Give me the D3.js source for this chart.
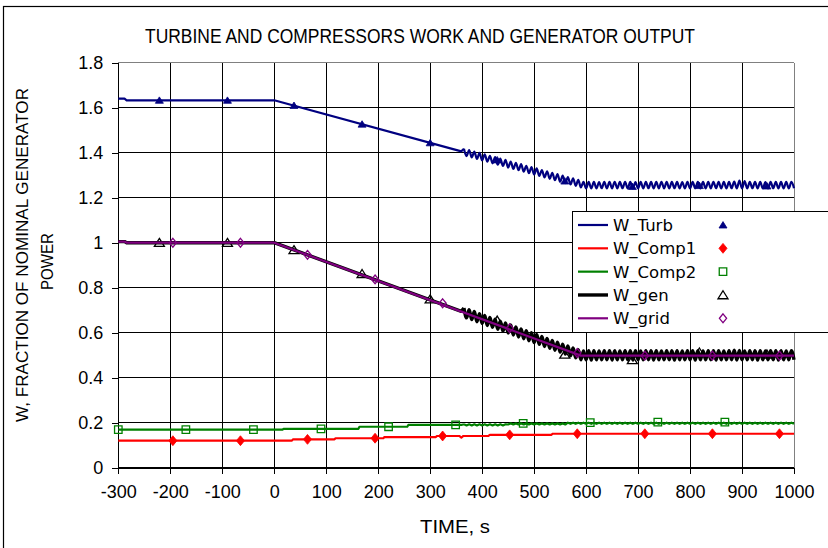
<!DOCTYPE html>
<html>
<head>
<meta charset="utf-8">
<script src="https://cdn.jsdelivr.net/npm/d3@7/dist/d3.min.js"></script>
<style>
  html, body { margin: 0; padding: 0; background: #fff; }
  svg { display: block; }
</style>
</head>
<body>
<svg id="chart" width="828" height="548"></svg>
<script>
// ---- axis ticks ----
const xTicks = [-300, -200, -100, 0, 100, 200, 300, 400, 500, 600, 700, 800, 900, 1000];
const yTicks = [0, 0.2, 0.4, 0.6, 0.8, 1, 1.2, 1.4, 1.6, 1.8];

// ---- series names (legend order) ----
const seriesNames = ["W_Turb", "W_Comp1", "W_Comp2", "W_gen", "W_grid"];

// ---- steady / ramp portions: [time s, fraction] ----
const turbKnots  = [[-300, 1.640], [-288, 1.640], [-284, 1.633], [0, 1.633], [360, 1.406]];
const comp1Knots = [[-300, 0.120], [34, 0.120], [36, 0.126], [116, 0.126], [118, 0.131], [210, 0.131],
                    [212, 0.136], [311, 0.136], [313, 0.141], [356, 0.141], [360, 0.134], [364, 0.141],
                    [412, 0.141], [415, 0.146], [533, 0.146], [536, 0.151], [1000, 0.151]];
const comp2Knots = [[-300, 0.169], [16, 0.169], [18, 0.173], [162, 0.173], [164, 0.182], [256, 0.182],
                    [258, 0.190], [360, 0.190]];
const genKnots   = [[-300, 1.005], [-288, 1.005], [-284, 1.000], [0, 1.000], [360, 0.695]];
const gridKnots  = [[-300, 1.005], [-288, 1.005], [-284, 1.000], [0, 1.000], [590, 0.498], [1000, 0.498]];

// ---- oscillating portion, sampled every 5 s from t = 365 s ----
const waveStart = 365;
const waveStep = 5;
const turbWave = [
  1.418, 1.385, 1.412, 1.379, 1.405, 1.372, 1.399, 1.366, 1.393, 1.360,
  1.386, 1.353, 1.380, 1.347, 1.374, 1.341, 1.368, 1.334, 1.361, 1.328,
  1.355, 1.322, 1.349, 1.316, 1.342, 1.309, 1.336, 1.303, 1.330, 1.297,
  1.323, 1.290, 1.317, 1.284, 1.311, 1.278, 1.305, 1.271, 1.298, 1.265,
  1.292, 1.259, 1.286, 1.253, 1.279, 1.246, 1.270, 1.241, 1.270, 1.241,
  1.270, 1.241, 1.269, 1.242, 1.270, 1.241, 1.270, 1.241, 1.271, 1.241,
  1.270, 1.242, 1.270, 1.241, 1.270, 1.241, 1.269, 1.241, 1.270, 1.241,
  1.270, 1.242, 1.270, 1.241, 1.270, 1.241, 1.271, 1.241, 1.270, 1.241,
  1.270, 1.242, 1.270, 1.241, 1.269, 1.241, 1.270, 1.241, 1.270, 1.242,
  1.270, 1.241, 1.270, 1.241, 1.270, 1.241, 1.271, 1.242, 1.270, 1.241,
  1.270, 1.241, 1.270, 1.242, 1.272, 1.241, 1.276, 1.241, 1.274, 1.241,
  1.270, 1.242, 1.270, 1.241, 1.270, 1.241, 1.269, 1.241, 1.270, 1.242,
  1.270, 1.241, 1.270, 1.241, 1.270, 1.241, 1.270, 1.242
];
const genWave = [
  0.710, 0.666, 0.702, 0.658, 0.694, 0.649, 0.685, 0.641, 0.677, 0.632,
  0.668, 0.624, 0.660, 0.615, 0.651, 0.607, 0.643, 0.598, 0.634, 0.590,
  0.626, 0.581, 0.617, 0.573, 0.609, 0.564, 0.600, 0.556, 0.592, 0.548,
  0.583, 0.539, 0.575, 0.531, 0.566, 0.522, 0.558, 0.514, 0.549, 0.505,
  0.541, 0.497, 0.532, 0.488, 0.524, 0.480, 0.519, 0.480, 0.520, 0.479,
  0.520, 0.480, 0.519, 0.480, 0.520, 0.480, 0.520, 0.479, 0.520, 0.480,
  0.519, 0.480, 0.520, 0.480, 0.520, 0.479, 0.520, 0.480, 0.519, 0.480,
  0.520, 0.480, 0.520, 0.479, 0.520, 0.480, 0.519, 0.480, 0.520, 0.480,
  0.520, 0.479, 0.520, 0.480, 0.519, 0.480, 0.520, 0.480, 0.520, 0.479,
  0.520, 0.480, 0.519, 0.480, 0.520, 0.480, 0.520, 0.479, 0.520, 0.480,
  0.519, 0.480, 0.520, 0.480, 0.522, 0.479, 0.521, 0.480, 0.519, 0.480,
  0.520, 0.480, 0.520, 0.479, 0.520, 0.480, 0.519, 0.480, 0.520, 0.480,
  0.520, 0.479, 0.520, 0.480, 0.519, 0.480, 0.520, 0.480
];
const comp2Wave = [
  0.193, 0.188, 0.193, 0.188, 0.193, 0.188, 0.193, 0.188, 0.193, 0.188,
  0.193, 0.188, 0.193, 0.188, 0.193, 0.188, 0.193, 0.192, 0.197, 0.192,
  0.197, 0.192, 0.197, 0.192, 0.197, 0.192, 0.197, 0.192, 0.197, 0.192,
  0.197, 0.192, 0.197, 0.192, 0.197, 0.192, 0.197, 0.192, 0.197, 0.192,
  0.200, 0.195, 0.200, 0.195, 0.200, 0.195, 0.200, 0.195, 0.200, 0.195,
  0.200, 0.195, 0.200, 0.195, 0.200, 0.195, 0.200, 0.195, 0.200, 0.195,
  0.200, 0.195, 0.200, 0.195, 0.200, 0.195, 0.200, 0.195, 0.200, 0.195,
  0.200, 0.195, 0.200, 0.195, 0.200, 0.195, 0.200, 0.195, 0.200, 0.195,
  0.200, 0.195, 0.200, 0.195, 0.200, 0.195, 0.200, 0.195, 0.200, 0.195,
  0.200, 0.195, 0.200, 0.195, 0.200, 0.195, 0.200, 0.195, 0.200, 0.195,
  0.200, 0.195, 0.200, 0.195, 0.200, 0.195, 0.200, 0.195, 0.200, 0.195,
  0.200, 0.195, 0.200, 0.195, 0.200, 0.195, 0.200, 0.195, 0.200, 0.195,
  0.200, 0.195, 0.200, 0.195, 0.200, 0.195, 0.200, 0.195
];

// ---- marker points: [time s, fraction] ----
const turbMarks  = [[-221, 1.633], [-90, 1.633], [38, 1.610], [169, 1.527], [300, 1.444],
                    [429, 1.368], [559, 1.274], [689, 1.250], [818, 1.254], [948, 1.252]];
const comp1Marks = [[-195, 0.120], [-65, 0.120], [64, 0.126], [194, 0.131], [324, 0.141],
                    [453, 0.146], [583, 0.151], [713, 0.151], [843, 0.151], [972, 0.151]];
const comp2Marks = [[-300, 0.169], [-170, 0.169], [-40, 0.169], [90, 0.173], [220, 0.182],
                    [349, 0.190], [479, 0.197], [608, 0.200], [738, 0.203], [867, 0.203]];
const genMarks   = [[-221, 1.000], [-90, 1.000], [38, 0.968], [169, 0.862], [300, 0.749],
                    [429, 0.655], [559, 0.504], [689, 0.479], [818, 0.513], [948, 0.504]];
const gridMarks  = [[-195, 1.000], [-65, 1.000], [64, 0.946], [194, 0.837], [324, 0.731],
                    [453, 0.620], [583, 0.510], [713, 0.498], [843, 0.498], [972, 0.498]];

// ---- assemble full series: steady/ramp part + oscillating part ----
const waveSeries = (wave) => wave.map((v, i) => [waveStart + i * waveStep, v]);
const series = [
  { name: seriesNames[0], knots: turbKnots,  wave: waveSeries(turbWave),  marks: turbMarks,
    color: "#000080", width: 2.2, waveCurve: d3.curveMonotoneX, symbol: "triUp", fill: true, msize: 8 },
  { name: seriesNames[1], knots: comp1Knots, wave: [],                    marks: comp1Marks,
    color: "#FF0000", width: 2.2, waveCurve: d3.curveLinear, symbol: "diamond", fill: true, msize: 9 },
  { name: seriesNames[2], knots: comp2Knots, wave: waveSeries(comp2Wave), marks: comp2Marks,
    color: "#008000", width: 2.2, waveCurve: d3.curveLinear, symbol: "square", fill: false, msize: 7.5 },
  { name: seriesNames[3], knots: genKnots,   wave: waveSeries(genWave),   marks: genMarks,
    color: "#000000", width: 3.4, waveCurve: d3.curveMonotoneX, symbol: "triUp", fill: false, msize: 10 },
  { name: seriesNames[4], knots: gridKnots,  wave: [],                    marks: gridMarks,
    color: "#800080", width: 2.2, waveCurve: d3.curveLinear, symbol: "diamond", fill: false, msize: 8 }
];

// ---- layout ----
const svg = d3.select("#chart");
const plot = { left: 118.3, right: 794, top: 62.7, bottom: 467.7 };
const x = d3.scaleLinear().domain([-300, 1000]).range([plot.left, plot.right]);
const y = d3.scaleLinear().domain([0, 1.8]).range([plot.bottom, plot.top]);

const sans = "'Liberation Sans', Arial, sans-serif";

// outer chart frame
svg.append("rect")
  .attr("x", 3.5).attr("y", 6.5).attr("width", 900).attr("height", 700)
  .attr("fill", "#fff").attr("stroke", "#000").attr("stroke-width", 1.2);

// title
svg.append("text")
  .attr("x", 420).attr("y", 43)
  .attr("text-anchor", "middle")
  .attr("font-family", sans).attr("font-size", 19.5)
  .attr("textLength", 550).attr("lengthAdjust", "spacingAndGlyphs")
  .attr("fill", "#000")
  .text("TURBINE AND COMPRESSORS WORK AND GENERATOR OUTPUT");

// grid lines
const grid = svg.append("g").attr("shape-rendering", "crispEdges");
grid.selectAll("line.v").data(xTicks).join("line")
  .attr("class", "v")
  .attr("x1", d => x(d)).attr("x2", d => x(d))
  .attr("y1", plot.top).attr("y2", plot.bottom)
  .attr("stroke", d => d === 1000 ? "#808080" : "#000").attr("stroke-width", 1);
grid.selectAll("line.h").data(yTicks).join("line")
  .attr("class", "h")
  .attr("x1", plot.left).attr("x2", plot.right)
  .attr("y1", d => y(d)).attr("y2", d => y(d))
  .attr("stroke", d => d === 1.8 ? "#808080" : "#000").attr("stroke-width", 1);

// axes
const fmtY = d => String(+d.toFixed(1));
const yAxis = svg.append("g")
  .attr("transform", `translate(${plot.left},0)`)
  .call(d3.axisLeft(y).tickValues(yTicks).tickFormat(fmtY).tickSize(6).tickSizeOuter(0).tickPadding(9));
const xAxis = svg.append("g")
  .attr("transform", `translate(0,${plot.bottom})`)
  .call(d3.axisBottom(x).tickValues(xTicks).tickFormat(d => String(d)).tickSize(6).tickSizeOuter(0).tickPadding(12));
[yAxis, xAxis].forEach(a => {
  a.attr("shape-rendering", "crispEdges");
  a.select(".domain").attr("stroke", "#000");
  a.selectAll(".tick line").attr("stroke", "#000");
  a.selectAll(".tick text").attr("font-family", sans).attr("font-size", 18).attr("fill", "#000");
});

// axis titles
svg.append("text")
  .attr("x", 455).attr("y", 533)
  .attr("text-anchor", "middle")
  .attr("font-family", sans).attr("font-size", 18)
  .attr("textLength", 70).attr("lengthAdjust", "spacingAndGlyphs")
  .text("TIME, s");
svg.append("text")
  .attr("transform", "translate(27.5,255) rotate(-90)")
  .attr("text-anchor", "middle")
  .attr("font-family", sans).attr("font-size", 16.5)
  .attr("textLength", 334).attr("lengthAdjust", "spacingAndGlyphs")
  .text("W, FRACTION OF NOMINAL GENERATOR");
svg.append("text")
  .attr("transform", "translate(52.5,261.5) rotate(-90)")
  .attr("text-anchor", "middle")
  .attr("font-family", sans).attr("font-size", 16.5)
  .attr("textLength", 57).attr("lengthAdjust", "spacingAndGlyphs")
  .text("POWER");

// marker shapes
function markerPath(kind, s) {
  const h = s / 2;
  const p = d3.path();
  if (kind === "triUp") {
    p.moveTo(0, -h * 0.85); p.lineTo(h, h * 0.75); p.lineTo(-h, h * 0.75); p.closePath();
  } else if (kind === "diamond") {
    p.moveTo(0, -h * 1.1); p.lineTo(h * 0.9, 0); p.lineTo(0, h * 1.1); p.lineTo(-h * 0.9, 0); p.closePath();
  } else {
    p.rect(-h, -h, s, s);
  }
  return p.toString();
}

// series lines with markers
const plotG = svg.append("g");
series.forEach(s => {
  const linear = d3.line().x(d => x(d[0])).y(d => y(d[1])).curve(d3.curveLinear);
  const rampPts = s.wave.length ? s.knots.concat([s.wave[0]]) : s.knots;
  plotG.append("path")
    .datum(rampPts)
    .attr("d", linear)
    .attr("fill", "none")
    .attr("stroke", s.color)
    .attr("stroke-width", s.width)
    .attr("stroke-linejoin", "round");
  if (s.wave.length) {
    const waveLine = d3.line().x(d => x(d[0])).y(d => y(d[1])).curve(s.waveCurve);
    plotG.append("path")
      .datum(s.wave)
      .attr("d", waveLine)
      .attr("fill", "none")
      .attr("stroke", s.color)
      .attr("stroke-width", s.width)
      .attr("stroke-linejoin", "round");
  }
  plotG.selectAll(null).data(s.marks).join("path")
    .attr("transform", d => `translate(${x(d[0])},${y(d[1])})`)
    .attr("d", markerPath(s.symbol, s.msize))
    .attr("fill", s.fill ? s.color : "#fff")
    .attr("fill-opacity", s.fill ? 1 : 0)
    .attr("stroke", s.color)
    .attr("stroke-width", s.fill ? 0.8 : 1.3);
});

// legend
const legend = svg.append("g");
legend.append("rect")
  .attr("x", 572.5).attr("y", 211.5).attr("width", 400).attr("height", 121)
  .attr("fill", "#fff").attr("stroke", "#000").attr("stroke-width", 1)
  .attr("shape-rendering", "crispEdges");
const rowY = d3.scalePoint().domain(seriesNames).range([225, 318.3]);
series.forEach(s => {
  const cy = rowY(s.name);
  legend.append("line")
    .attr("x1", 578).attr("x2", 608).attr("y1", cy).attr("y2", cy)
    .attr("stroke", s.color).attr("stroke-width", s.width);
  legend.append("text")
    .attr("x", 613).attr("y", cy + 6)
    .attr("font-family", "'DejaVu Sans', Verdana, sans-serif").attr("font-size", 16.5)
    .attr("fill", "#000")
    .text(s.name);
  legend.append("path")
    .attr("transform", `translate(723,${cy})`)
    .attr("d", markerPath(s.symbol, s.msize))
    .attr("fill", s.fill ? s.color : "#fff")
    .attr("stroke", s.color)
    .attr("stroke-width", s.fill ? 0.8 : 1.3);
});
</script>
</body>
</html>
